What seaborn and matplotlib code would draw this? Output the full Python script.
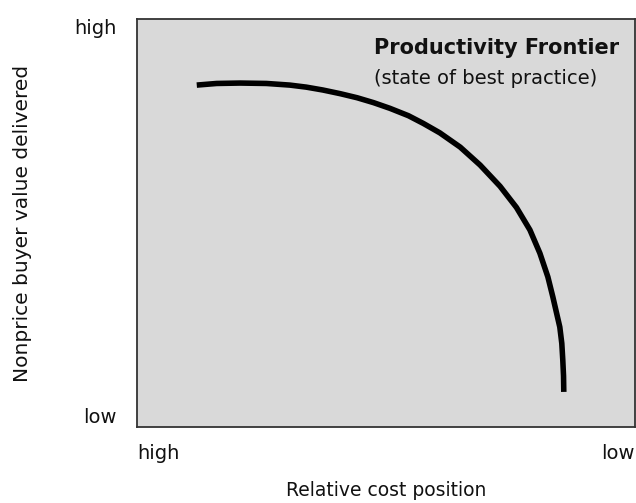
import matplotlib
matplotlib.use("Agg")
import matplotlib.pyplot as plt
import seaborn as sns
import pandas as pd

# Frontier curve (x: relative cost position 0=high..10=low; y: nonprice value 0=low..10=high)
frontier_x = [1.20, 1.60, 2.07, 2.60, 3.07, 3.40, 3.73, 4.08, 4.42, 4.75, 5.08, 5.45, 5.75, 6.08,
              6.49, 6.89, 7.29, 7.62, 7.89, 8.09, 8.25, 8.35, 8.42, 8.49, 8.53, 8.55, 8.565, 8.57]
frontier_y = [8.38, 8.42, 8.43, 8.42, 8.38, 8.33, 8.26, 8.17, 8.07, 7.95, 7.81, 7.63, 7.44, 7.21,
              6.86, 6.42, 5.90, 5.38, 4.83, 4.26, 3.68, 3.19, 2.82, 2.45, 2.05, 1.64, 1.25, 0.86]
x_tick_labels = ["high", "low"]
y_tick_labels = ["low", "high"]

sns.set_theme(style="white")
plt.rcParams["font.family"] = ["DejaVu Sans"]

fig = plt.figure(figsize=(6.36, 5.03), dpi=100)
ax = fig.add_axes([137/636, 1 - 427/503, 498/636, 408/503])
ax.set_facecolor("#d9d9d9")

df = pd.DataFrame({"x": frontier_x, "y": frontier_y})
sns.lineplot(data=df, x="x", y="y", sort=False, color="black", linewidth=4.0, ax=ax,
             solid_capstyle="butt", solid_joinstyle="round")

ax.set_xlim(0, 10)
ax.set_ylim(0, 10)
for s in ax.spines.values():
    s.set_color("#333333")
    s.set_linewidth(1.3)

ax.set_xticks([0, 10])
ax.set_xticklabels(x_tick_labels, fontsize=14)
xl = ax.get_xticklabels()
xl[0].set_ha("left")
xl[1].set_ha("right")
ax.set_yticks([0, 10])
ax.set_yticklabels(y_tick_labels, fontsize=14)
yl = ax.get_yticklabels()
yl[0].set_va("bottom")
yl[1].set_va("top")
ax.tick_params(axis="x", length=0, pad=12, colors="#111111")
ax.tick_params(axis="y", length=0, pad=15, colors="#111111")

ax.set_xlabel("Relative cost position", fontsize=13.5, labelpad=13, color="#111111")
ax.set_ylabel("Nonprice buyer value delivered", fontsize=14.5, labelpad=30, color="#111111")

ax.text(0.476, 0.93, "Productivity Frontier", transform=ax.transAxes, fontsize=15,
        fontweight="bold", ha="left", va="center", color="#111111")
ax.text(0.476, 0.855, "(state of best practice)", transform=ax.transAxes, fontsize=14,
        ha="left", va="center", color="#111111")

fig.savefig("out.png", dpi=100)
